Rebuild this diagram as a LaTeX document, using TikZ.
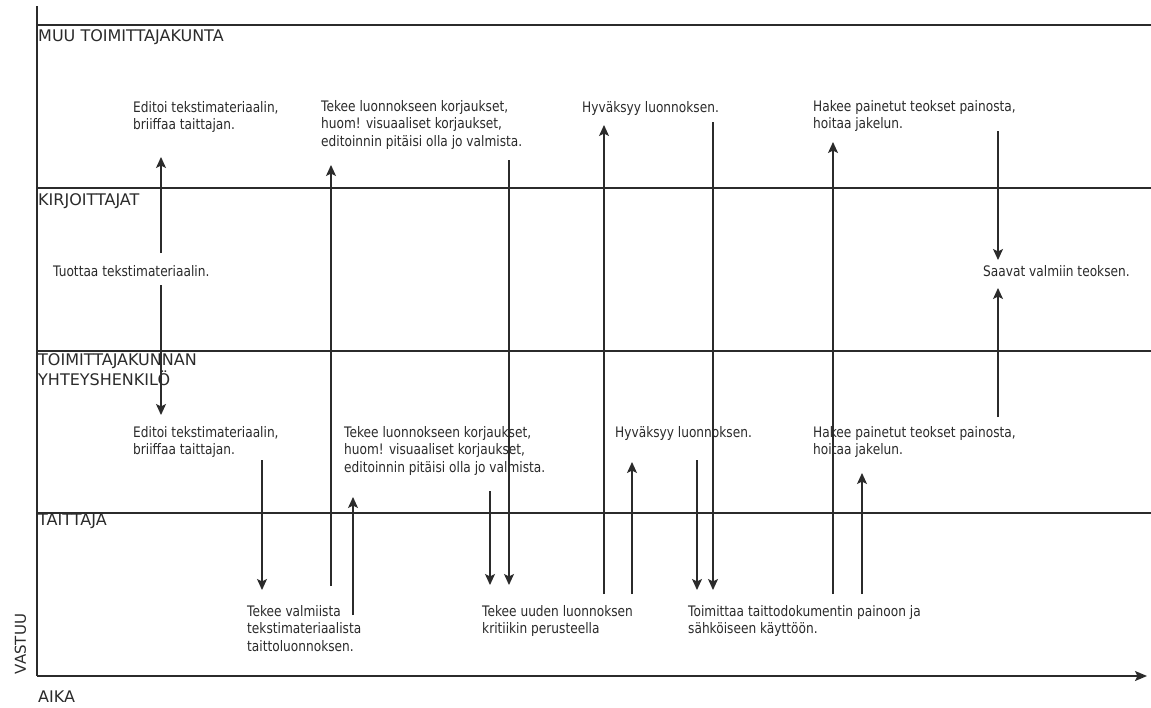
\documentclass[tikz,border=0pt]{standalone}
\usepackage{fontspec}
\setmainfont{DejaVu Sans}[FakeStretch=0.84]
\newfontfamily\lanefont{DejaVu Sans}
\usetikzlibrary{arrows.meta}
\definecolor{ink}{HTML}{2B2B2B}

\tikzset{
  txt/.style={anchor=north west, inner sep=0pt, align=left, text=ink,
    font=\fontsize{14.5}{17.5}\selectfont},
  lane/.style={anchor=north west, inner sep=0pt, align=left, text=ink,
    font=\lanefont\fontsize{16}{20}\selectfont},
  laneline/.style={draw=ink, line width=1.2pt},
  flow/.style={draw=ink, line width=1.2pt,
    -{Stealth[length=11pt, width=10pt, inset=2.5pt]}},
}

\begin{document}
\begin{tikzpicture}[x=1pt, y=-1pt]
  \useasboundingbox (0,0) rectangle (1151,707);
  \fill[white] (0,0) rectangle (1151,707);

  % axes
  \coordinate (ytop) at (37,6);
  \coordinate (origin) at (37,676);
  \coordinate (xend) at (1147,676);
  \draw[ink, line width=1.4pt] (ytop) -- (origin);
  \draw[ink, line width=1.4pt, -{Stealth[length=12pt, width=10pt, inset=2.5pt]}] (origin) -- (xend);
  \node[anchor=base west, inner sep=0pt, text=ink, font=\lanefont\fontsize{16}{20}\selectfont] (aika) at (38,702) {AIKA};
  \node[rotate=90, inner sep=0pt, text=ink, font=\lanefont\fontsize{15}{18}\selectfont] (vastuu) at (20.5,644) {VASTUU};

  % lane separators
  \foreach \y/\n in {25/l1, 188/l2, 351/l3, 513/l4} {
    \coordinate (\n a) at (37,\y);
    \coordinate (\n b) at (1151,\y);
    \draw[laneline] (\n a) -- (\n b);
  }

  % lane titles
  \node[lane] (lmuu)  at (38,29)  {MUU TOIMITTAJAKUNTA};
  \node[lane] (lkirj) at (38,193) {KIRJOITTAJAT};
  \node[lane] (lyht)  at (38,353) {TOIMITTAJAKUNNAN\\YHTEYSHENKILÖ};
  \node[lane] (ltait) at (38,514) {TAITTAJA};

  % tasks: other editors
  \node[txt] (m1) at (133,101) {Editoi tekstimateriaalin,\\briiffaa taittajan.};
  \node[txt] (m2) at (321,100) {Tekee luonnokseen korjaukset,\\huom! visuaaliset korjaukset,\\editoinnin pitäisi olla jo valmista.};
  \node[txt] (m3) at (582,101) {Hyväksyy luonnoksen.};
  \node[txt] (m4) at (813,100) {Hakee painetut teokset painosta,\\hoitaa jakelun.};

  % tasks: writers
  \node[txt] (k1) at (53,265) {Tuottaa tekstimateriaalin.};
  \node[txt] (k2) at (983,265) {Saavat valmiin teoksen.};

  % tasks: contact person
  \node[txt] (y1) at (133,426) {Editoi tekstimateriaalin,\\briiffaa taittajan.};
  \node[txt] (y2) at (344,426) {Tekee luonnokseen korjaukset,\\huom! visuaaliset korjaukset,\\editoinnin pitäisi olla jo valmista.};
  \node[txt] (y3) at (615,426) {Hyväksyy luonnoksen.};
  \node[txt] (y4) at (813,426) {Hakee painetut teokset painosta,\\hoitaa jakelun.};

  % tasks: layout artist
  \node[txt] (t1) at (247,605) {Tekee valmiista\\tekstimateriaalista\\taittoluonnoksen.};
  \node[txt] (t2) at (482,605) {Tekee uuden luonnoksen\\kritiikin perusteella};
  \node[txt] (t3) at (688,605) {Toimittaa taittodokumentin painoon ja\\sähköiseen käyttöön.};

  % flow arrow end points
  \coordinate (a1s) at (161,253); \coordinate (a1e) at (161,157);
  \coordinate (a2s) at (161,285); \coordinate (a2e) at (161,415);
  \coordinate (a3s) at (262,460); \coordinate (a3e) at (262,590);
  \coordinate (a4s) at (331,586); \coordinate (a4e) at (331,165);
  \coordinate (a5s) at (353,615); \coordinate (a5e) at (353,497);
  \coordinate (a6s) at (490,491); \coordinate (a6e) at (490,585);
  \coordinate (a7s) at (509,160); \coordinate (a7e) at (509,585);
  \coordinate (a8s) at (604,594); \coordinate (a8e) at (604,125);
  \coordinate (a9s) at (632,594); \coordinate (a9e) at (632,462);
  \coordinate (a10s) at (697,460); \coordinate (a10e) at (697,590);
  \coordinate (a11s) at (713,122); \coordinate (a11e) at (713,590);
  \coordinate (a12s) at (833,594); \coordinate (a12e) at (833,142);
  \coordinate (a13s) at (862,594); \coordinate (a13e) at (862,473);
  \coordinate (a14s) at (998,131); \coordinate (a14e) at (998,260);
  \coordinate (a15s) at (998,417); \coordinate (a15e) at (998,288);

  \foreach \i in {1,...,15} {
    \draw[flow] (a\i s) -- (a\i e);
  }
\end{tikzpicture}
\end{document}
